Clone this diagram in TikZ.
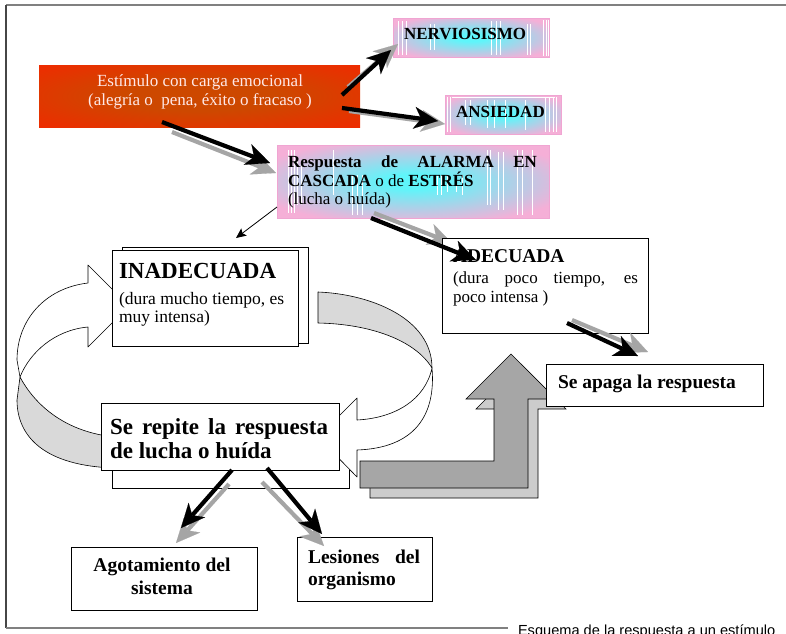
\documentclass[tikz,border=0pt]{standalone}
\usepackage{fontspec}
\setmainfont{Liberation Serif}
\newfontfamily\capfont{Liberation Sans}
\usetikzlibrary{arrows.meta}
\definecolor{redout}{RGB}{242,40,0}
\definecolor{redin}{RGB}{205,72,0}
\definecolor{pinkc}{RGB}{245,175,215}
\definecolor{cyanc}{RGB}{95,245,250}
\definecolor{pinkedge}{RGB}{240,165,210}
\definecolor{ringgray}{RGB}{217,217,217}
\definecolor{bentfront}{RGB}{166,166,166}
\definecolor{bentback}{RGB}{204,204,204}
\definecolor{shadowgray}{RGB}{165,165,165}
\definecolor{framegray}{RGB}{128,128,128}
\definecolor{framedark}{RGB}{70,70,70}
\definecolor{stimtext}{RGB}{255,232,232}
\pgfdeclareradialshading{pinkcyan}{\pgfpoint{0bp}{0bp}}{color(0bp)=(cyanc); color(5bp)=(cyanc); color(30bp)=(pinkc); color(50bp)=(pinkc)}
\pgfdeclareradialshading{redglow}{\pgfpoint{0bp}{0bp}}{color(0bp)=(redin); color(12bp)=(redin); color(38bp)=(redout); color(50bp)=(redout)}
\tikzset{
  pinkbox/.style={shade, shading=pinkcyan, draw=pinkedge, line width=0.6pt, inner sep=0pt, outer sep=0pt},
  redbox/.style={shade, shading=redglow, draw=none, inner sep=0pt, outer sep=0pt},
  whitebox/.style={draw=black, fill=white, line width=0.7pt, inner sep=0pt, outer sep=0pt},
  stripe/.style={white, line width=0.6pt},
  txt/.style={inner sep=0pt, outer sep=0pt, anchor=base west},
  ctxt/.style={inner sep=0pt, outer sep=0pt, anchor=base},
  bigarrow/.style={line width=4.2pt, -{Stealth[length=24pt,width=22pt,inset=7pt,line width=0.1pt]}},
  blackarrow/.style={bigarrow, draw=black},
  grayarrow/.style={bigarrow, draw=shadowgray},
  ringline/.style={draw=black, line width=0.6pt, line join=round},
  bentline/.style={draw=black, line width=0.6pt},
  thinarrow/.style={line width=0.8pt, -{Stealth[length=10pt,width=9pt,inset=2pt]}}
}
\begin{document}
\begin{tikzpicture}[x=1pt, y=-1pt]
\useasboundingbox (0,0) rectangle (786,633);
\clip (0,0) rectangle (786,633);
% frame and caption
\draw[framegray, line width=2pt] (6,5) -- (786,5);
\draw[framedark, line width=1.5pt] (6,5) -- (6,628);
\draw[framegray, line width=1.5pt] (6,628) -- (508,628);
\node[txt, font=\capfont\fontsize{14.6}{16}\selectfont] (caption) at (518,635) {Esquema de la respuesta a un estímulo};

% stimulus box
\node[redbox, minimum width=321pt, minimum height=62pt] (stim) at (199.5,96) {};
\node[ctxt, text=stimtext, font=\fontsize{17}{20}\selectfont] (stim1) at (200,86) {Estímulo con carga emocional};
\node[ctxt, text=stimtext, font=\fontsize{17}{20}\selectfont] (stim2) at (200,105) {(alegría o\ \ pena, éxito o fracaso )};

% pink boxes
\node[pinkbox, minimum width=156pt, minimum height=39pt] (nerv) at (471,37.5) {};
\foreach \x/\a/\b in {398/21/55,402/21/55,406/21/55,430/24/50,434/24/50,491/21/55,496/21/55,500/21/55,527/24/55,530/24/55,543/20/56,546/20/56,548/20/56}
  \draw[stripe] (\x,\a) -- (\x,\b);
\node[txt, font=\bfseries\fontsize{17}{20}\selectfont] (nervt) at (404,39) {NERVIOSISMO};

\node[pinkbox, minimum width=116pt, minimum height=39pt] (ansi) at (503,114.5) {};
\draw[stripe] (452,97.5) -- (555,97.5);
\foreach \x/\a/\b in {447/97/132,450/97/132,465/100/125,470/100/125,487/100/128,494/100/128,505/100/128,525/100/130,545/97/132,549/97/132,553/97/132,556/97/132}
  \draw[stripe] (\x,\a) -- (\x,\b);
\node[txt, font=\bfseries\fontsize{17}{20}\selectfont] (ansit) at (456,117) {ANSIEDAD};

\node[pinkbox, minimum width=272pt, minimum height=73pt] (resp) at (413,181.5) {};
\foreach \x/\a/\b in {288/150/213,291/150/213,294/150/213,297/160/205,301/160/205,333/150/195,352/175/215,357/175/215,362/175/215,437/175/195,441/175/195,447/175/192,456/175/192,462/175/195,487/150/205,490/150/205,498/152/210,503/152/210,517/150/215,522/150/215,532/150/215}
  \draw[stripe] (\x,\a) -- (\x,\b);
\node[txt, font=\fontsize{17}{20}\selectfont] (resp1) at (288,167) {\makebox[249pt][s]{\bfseries Respuesta de ALARMA EN}};
\node[txt, font=\fontsize{17}{20}\selectfont] (resp2) at (288,186) {\textbf{CASCADA} o de \textbf{ESTRÉS}};
\node[txt, font=\fontsize{17}{20}\selectfont] (resp3) at (288,204) {(lucha o huída)};

% back boxes
\node[whitebox, minimum width=186pt, minimum height=96pt] (inadb) at (215,295) {};
\node[whitebox, minimum width=237pt, minimum height=68pt] (repb) at (230.5,454) {};

% circular arrows
\draw[ringline, fill=ringgray] (318,292) .. controls (370,294) and (432,318) .. (432,368)
  .. controls (415,340) and (370,324) .. (318,323) -- cycle;
\draw[ringline, fill=white] (432,368) .. controls (436,415) and (415,448) .. (357,450)
  -- (357,477) -- (318,437) -- (357,398) -- (357,420)
  .. controls (395,418) and (425,400) .. (432,368) -- cycle;
\draw[ringline, fill=ringgray] (20,377) .. controls (35,405) and (65,432) .. (115,437)
  -- (115,468) .. controls (45,466) and (17,437) .. (17,400) -- cycle;
\draw[ringline, fill=white] (20,377) -- (17,360) .. controls (17,320) and (45,288) .. (88,283)
  -- (88,265) -- (129,306) -- (88,347) -- (88,327)
  .. controls (55,330) and (30,352) .. (20,377) -- cycle;

% front boxes
\node[whitebox, minimum width=186pt, minimum height=96pt] (inad) at (205,298) {};
\node[txt, font=\bfseries\fontsize{23}{26}\selectfont] (inad1) at (119,278) {INADECUADA};
\node[txt, font=\fontsize{17.5}{20}\selectfont] (inad2) at (119,304) {(dura mucho tiempo, es};
\node[txt, font=\fontsize{17.5}{20}\selectfont] (inad3) at (119,322) {muy intensa)};

\node[whitebox, minimum width=238pt, minimum height=67pt] (rep) at (220,436.5) {};
\node[txt, font=\bfseries\fontsize{23}{26}\selectfont] (rep1) at (110,434) {\makebox[218pt][s]{Se repite la respuesta}};
\node[txt, font=\bfseries\fontsize{23}{26}\selectfont] (rep2) at (110,458) {de lucha o huída};

% bent arrow
\draw[bentline, fill=bentback] (370,471) -- (504,471) -- (504,409) -- (476,409) -- (521,364) -- (566,409) -- (538,409) -- (538,498) -- (370,498) -- cycle;
\draw[bentline, fill=bentfront] (360,461) -- (494,461) -- (494,399) -- (466,399) -- (511,354) -- (556,399) -- (528,399) -- (528,488) -- (360,488) -- cycle;

% arrow end points
\coordinate (a1s) at (342,95);  \coordinate (a1e) at (391,50);
\coordinate (g1s) at (348,87);  \coordinate (g1e) at (398,44);
\coordinate (a2s) at (342,108); \coordinate (a2e) at (438,121);
\coordinate (g2s) at (349,111); \coordinate (g2e) at (445,124);
\coordinate (a3s) at (162,122); \coordinate (a3e) at (270,163);
\coordinate (g3s) at (172,132); \coordinate (g3e) at (276,173);
\coordinate (a4s) at (277,207); \coordinate (a4e) at (236,238);
\coordinate (a5s) at (371,218); \coordinate (a5e) at (476,260);
\coordinate (g5s) at (374,213); \coordinate (g5e) at (452,243);
\coordinate (a6s) at (567,323); \coordinate (a6e) at (638,356);
\coordinate (g6s) at (572,320); \coordinate (g6e) at (648,352);
\coordinate (a7s) at (232,470); \coordinate (a7e) at (181,528);
\coordinate (g7s) at (229,484); \coordinate (g7e) at (176,543);
\coordinate (a8s) at (267,468); \coordinate (a8e) at (322,534);
\coordinate (g8s) at (262,482); \coordinate (g8e) at (324,546);

\draw[grayarrow] (g5s) -- (g5e);

% remaining boxes
\node[whitebox, minimum width=206pt, minimum height=95pt] (adec) at (545,285.5) {};
\node[txt, font=\bfseries\fontsize{19.5}{22}\selectfont] (adec1) at (453,262) {ADECUADA};
\node[txt, font=\fontsize{17}{20}\selectfont] (adec2) at (453,283) {\makebox[185pt][s]{(dura poco tiempo, es}};
\node[txt, font=\fontsize{17}{20}\selectfont] (adec3) at (453,302) {poco intensa )};

\node[whitebox, minimum width=217pt, minimum height=42pt] (apaga) at (654.5,385) {};
\node[txt, font=\bfseries\fontsize{19.5}{22}\selectfont] (apagat) at (558,388) {Se apaga la respuesta};

\node[whitebox, minimum width=186pt, minimum height=63pt] (agot) at (164,578.5) {};
\node[ctxt, font=\bfseries\fontsize{19.5}{22}\selectfont] (agot1) at (162,571) {Agotamiento del};
\node[ctxt, font=\bfseries\fontsize{19.5}{22}\selectfont] (agot2) at (162,594) {sistema};

\node[whitebox, minimum width=135pt, minimum height=64pt] (lesi) at (364.5,569) {};
\node[txt, font=\bfseries\fontsize{19.5}{22}\selectfont] (lesi1) at (308,563) {\makebox[112pt][s]{Lesiones del}};
\node[txt, font=\bfseries\fontsize{19.5}{22}\selectfont] (lesi2) at (308,585) {organismo};

% connectors
\draw[grayarrow] (g1s) -- (g1e);
\draw[blackarrow] (a1s) -- (a1e);
\draw[grayarrow] (g2s) -- (g2e);
\draw[blackarrow] (a2s) -- (a2e);
\draw[grayarrow] (g3s) -- (g3e);
\draw[blackarrow] (a3s) -- (a3e);
\draw[thinarrow] (a4s) -- (a4e);
\draw[blackarrow] (a5s) -- (a5e);
\draw[grayarrow] (g6s) -- (g6e);
\draw[blackarrow] (a6s) -- (a6e);
\draw[grayarrow] (g7s) -- (g7e);
\draw[blackarrow] (a7s) -- (a7e);
\draw[grayarrow] (g8s) -- (g8e);
\draw[blackarrow] (a8s) -- (a8e);
\end{tikzpicture}
\end{document}
